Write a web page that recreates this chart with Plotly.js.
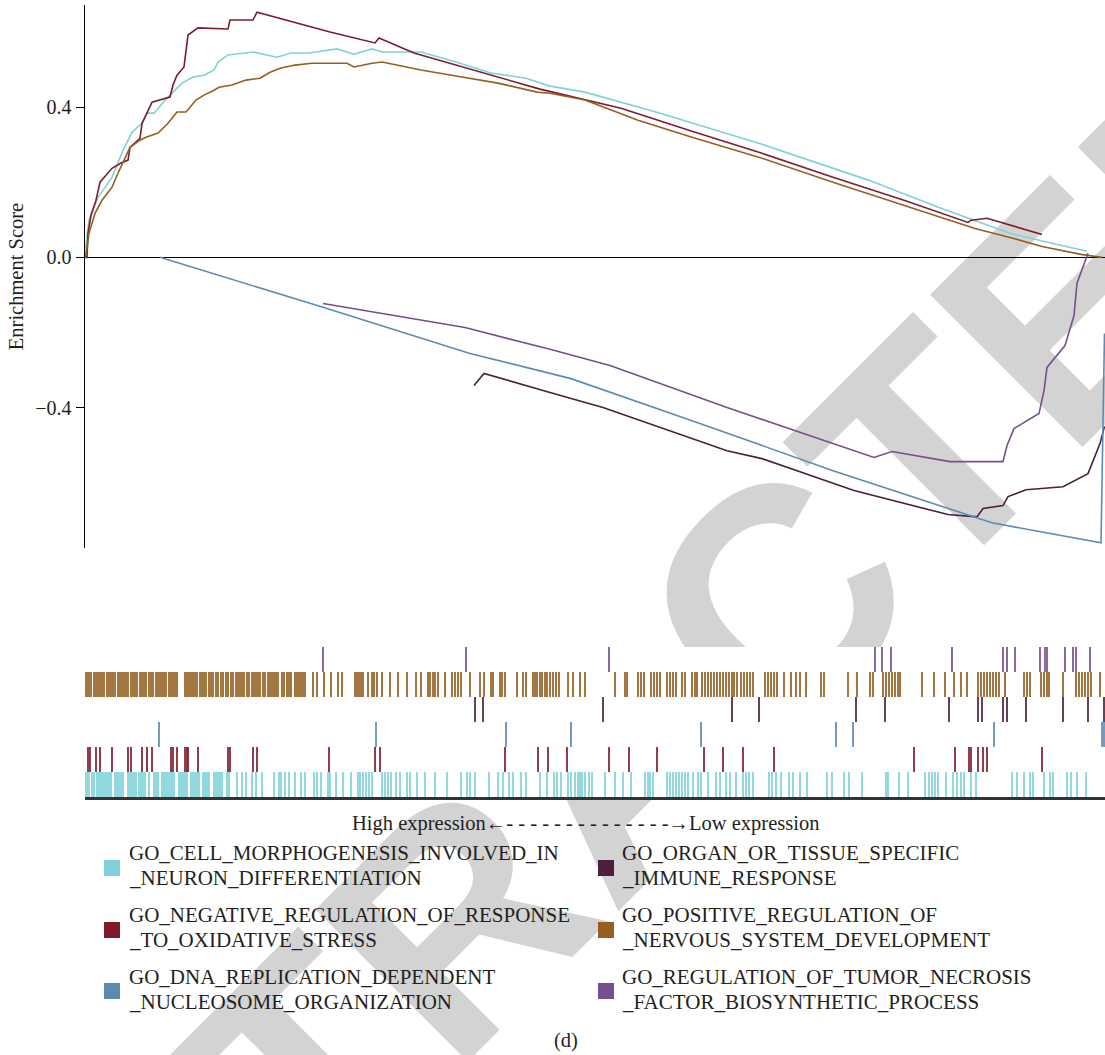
<!DOCTYPE html>
<html>
<head>
<meta charset="utf-8">
<script src="https://cdn.plot.ly/plotly-3.0.1.min.js"></script>
<style>
  html, body { margin:0; padding:0; background:#ffffff; overflow:hidden; }
  #wrap { position:relative; width:1105px; height:1055px; overflow:hidden; }
  #wm { position:absolute; left:616px; top:760px; transform:translate(-50%,-50%) rotate(-45deg);
        font-family:"Liberation Sans", Arial, sans-serif; font-weight:bold; font-size:313px; line-height:1;
        color:#d3d3d3; white-space:nowrap; z-index:0; }
  #chart { position:absolute; left:0; top:0; width:1105px; height:1055px; z-index:1; }
</style>
</head>
<body>
<div id="wrap">
  <div id="wm">RETRACTED</div>
  <div id="chart"></div>
</div>
<script>
// ---------- gene-set names ----------
const setNames = [
  "GO_CELL_MORPHOGENESIS_INVOLVED_IN_NEURON_DIFFERENTIATION",
  "GO_ORGAN_OR_TISSUE_SPECIFIC_IMMUNE_RESPONSE",
  "GO_NEGATIVE_REGULATION_OF_RESPONSE_TO_OXIDATIVE_STRESS",
  "GO_POSITIVE_REGULATION_OF_NERVOUS_SYSTEM_DEVELOPMENT",
  "GO_DNA_REPLICATION_DEPENDENT_NUCLEOSOME_ORGANIZATION",
  "GO_REGULATION_OF_TUMOR_NECROSIS_FACTOR_BIOSYNTHETIC_PROCESS"
];
const legendLines = [
  ["GO_CELL_MORPHOGENESIS_INVOLVED_IN", "_NEURON_DIFFERENTIATION"],
  ["GO_ORGAN_OR_TISSUE_SPECIFIC", "_IMMUNE_RESPONSE"],
  ["GO_NEGATIVE_REGULATION_OF_RESPONSE", "_TO_OXIDATIVE_STRESS"],
  ["GO_POSITIVE_REGULATION_OF", "_NERVOUS_SYSTEM_DEVELOPMENT"],
  ["GO_DNA_REPLICATION_DEPENDENT", "_NUCLEOSOME_ORGANIZATION"],
  ["GO_REGULATION_OF_TUMOR_NECROSIS", "_FACTOR_BIOSYNTHETIC_PROCESS"]
];

// ---------- running enrichment scores (x = rank position, y = ES) ----------
const cellMorphX = [0,1,4,13,27,38,47,57,62,69,82,97,108,119,129,133,143,161,168,192,206,224,252,269,287,297,336,371,406,441,465,500,571,677,784,854,883,925,968,1002];
const cellMorphY = [0,0.032,0.099,0.160,0.213,0.285,0.333,0.357,0.384,0.384,0.424,0.464,0.480,0.485,0.499,0.520,0.539,0.544,0.547,0.533,0.544,0.544,0.555,0.541,0.555,0.547,0.547,0.520,0.491,0.477,0.456,0.440,0.387,0.301,0.205,0.133,0.104,0.064,0.037,0.016];

const organX = [389,399,465,518,642,677,769,863,892,898,918,923,941,978,1003,1015,1019.5];
const organY = [-0.341,-0.309,-0.360,-0.400,-0.515,-0.536,-0.621,-0.685,-0.691,-0.669,-0.661,-0.637,-0.619,-0.611,-0.576,-0.496,-0.450];

const negRegX = [0,2,3,6,11,15,27,36,43,45,55,57,61,67,85,88,92,99,103,113,143,145,168,172,245,290,294,329,455,536,607,677,748,819,883,886,902,957];
const negRegY = [0,0,0.064,0.112,0.152,0.200,0.237,0.251,0.259,0.293,0.317,0.357,0.379,0.413,0.427,0.459,0.485,0.507,0.592,0.611,0.608,0.632,0.632,0.653,0.600,0.571,0.584,0.544,0.448,0.397,0.336,0.277,0.213,0.152,0.093,0.099,0.104,0.061];

const posRegX = [0,1,4,10,17,27,33,40,45,55,61,73,83,92,101,111,119,129,134,147,161,175,185,196,210,227,248,262,269,287,297,336,371,413,452,465,500,553,607,677,748,819,890,925,957,996,1017];
const posRegY = [0,0.005,0.064,0.117,0.152,0.187,0.224,0.267,0.293,0.312,0.320,0.331,0.357,0.387,0.387,0.419,0.432,0.445,0.453,0.459,0.472,0.477,0.493,0.504,0.512,0.517,0.517,0.517,0.507,0.517,0.520,0.499,0.483,0.464,0.440,0.437,0.419,0.365,0.320,0.264,0.200,0.139,0.077,0.053,0.029,0.008,0];

const dnaX = [75,238,385,465,486,607,748,907,1016,1019.5];
const dnaY = [0,-0.133,-0.256,-0.309,-0.323,-0.435,-0.568,-0.707,-0.760,-0.203];

const tnfX = [238,380,465,525,642,789,807,865,918,922,929,954,959,962,980,989,992,1003];
const tnfY = [-0.123,-0.187,-0.245,-0.288,-0.400,-0.533,-0.517,-0.544,-0.544,-0.501,-0.456,-0.416,-0.355,-0.293,-0.235,-0.155,-0.069,0.011];

// ---------- hit positions (rug rows) ----------
const tnfHits = [238,381,524,790,797,806,867,918,922,930,955,960,962,980,988,991,1005];
const posRegHits = [0,2,4,6,9,11,13,15,17,19,22,24,26,28,30,33,35,37,39,41,43,46,48,50,52,55,57,59,61,64,66,68,71,73,75,77,79,81,84,86,88,90,92,
  100,102,104,106,108,110,112,115,117,119,121,124,126,128,131,133,136,138,141,143,146,148,151,153,155,157,159,162,164,167,169,171,173,175,178,180,183,185,187,189,191,193,197,199,202,204,206,
  210,212,214,216,218,220,228,232,239,246,253,257,270,272,274,276,278,283,287,289,292,297,305,313,322,331,336,343,345,348,350,353,360,367,370,373,376,385,395,399,406,408,415,417,420,432,438,441,448,450,452,455,457,460,462,
  465,468,471,474,483,488,495,500,530,540,542,553,556,559,566,569,572,575,582,585,588,591,597,600,607,610,612,617,620,623,626,629,632,635,638,641,644,647,649,652,656,659,662,665,668,
  680,683,686,689,692,699,706,711,715,721,736,739,763,772,785,788,798,801,804,807,810,813,815,837,849,860,869,876,882,893,896,899,902,905,908,911,914,920,939,942,945,956,959,962,964,978,991,994,997,1000,1003,1006,1015];
const organHits = [390,398,518,647,674,771,800,864,893,897,918,922,941,978,1003,1019];
const dnaHits = [74,291,421,486,616,751,768,909,1017,1019];
const negRegHits = [3,5,11,15,27,43,46,57,62,67,86,88,92,100,102,103,113,143,145,168,172,244,290,295,420,453,463,482,524,544,572,619,638,658,689,829,870,884,886,893,898,902,957];
const cellMorphHits = [0,2,4,7,9,12,14,16,18,20,22,24,26,30,32,34,36,38,43,45,47,49,51,54,56,58,60,64,69,71,73,77,79,81,83,85,87,89,94,96,98,100,102,106,108,110,112,114,118,120,122,124,129,131,133,135,137,142,144,
  152,157,161,167,171,177,189,194,196,200,204,210,216,220,229,232,236,243,245,251,258,266,273,275,278,281,284,287,297,300,303,306,311,315,322,325,332,340,350,362,376,382,385,390,404,413,418,424,428,436,441,455,462,
  469,472,476,483,486,490,493,495,497,500,504,507,520,530,538,546,560,563,565,568,582,585,588,591,594,597,600,603,608,613,616,623,631,635,641,645,651,658,661,664,668,684,687,691,696,704,708,715,722,742,747,759,764,777,801,803,814,823,840,844,847,850,853,861,868,872,876,879,886,891,927,932,939,945,948,959,965,968,982,986,992,1001];

// ---------- colours ----------
const colCyan = "#7FD2DA", colOrgan = "#4B1F3D", colRed = "#7F1B2D", colBrown = "#945F21", colBlue = "#5B8BB5", colPurple = "#745090";

const FONT = "Liberation Serif, 'Times New Roman', serif";
const TXT = "#231f20";

const lineSeries = [
  {x: cellMorphX, y: cellMorphY, c: colCyan, n: setNames[0]},
  {x: organX, y: organY, c: colOrgan, n: setNames[1]},
  {x: negRegX, y: negRegY, c: colRed, n: setNames[2]},
  {x: posRegX, y: posRegY, c: colBrown, n: setNames[3]},
  {x: dnaX, y: dnaY, c: colBlue, n: setNames[4]},
  {x: tnfX, y: tnfY, c: colPurple, n: setNames[5]}
];
// rug rows: base index counted from the bottom row
const rugSeries = [
  {h: cellMorphHits, c: colCyan, row: 0, n: setNames[0]},
  {h: negRegHits, c: colRed, row: 1, n: setNames[2]},
  {h: dnaHits, c: colBlue, row: 2, n: setNames[4]},
  {h: organHits, c: colOrgan, row: 3, n: setNames[1]},
  {h: posRegHits, c: colBrown, row: 4, n: setNames[3]},
  {h: tnfHits, c: colPurple, row: 5, n: setNames[5]}
];

const traces = [];
lineSeries.forEach(s => traces.push({
  type: "scatter", mode: "lines", x: s.x, y: s.y, name: s.n,
  line: {color: s.c, width: 1.6}, xaxis: "x", yaxis: "y", hoverinfo: "skip"
}));
rugSeries.forEach(s => traces.push({
  type: "bar", x: s.h, y: s.h.map(() => 1), base: s.row, width: 1.7, name: s.n,
  marker: {color: s.c, line: {width: 0}}, xaxis: "x2", yaxis: "y2", hoverinfo: "skip"
}));

const W = 1105, H = 1055, L = 85;
const px2x = p => (p - L) / (W - L);
const py2y = p => 1 - p / H;

const annotations = [];
const shapes = [];
// white backing behind the hit-rug panel
shapes.push({type: "rect", xref: "paper", yref: "paper", layer: "below",
  x0: px2x(0), x1: 1, y0: py2y(797), y1: py2y(647), fillcolor: "#ffffff", line: {width: 0}});

annotations.push({xref: "paper", yref: "paper", x: px2x(585.5), y: py2y(823), xanchor: "center", yanchor: "middle",
  showarrow: false, text: "High expression\u2190- - - - - - - - - - - - - -\u2192Low expression",
  font: {family: FONT, size: 20.5, color: TXT}});
annotations.push({xref: "paper", yref: "paper", x: px2x(566), y: py2y(1040), xanchor: "center", yanchor: "middle",
  showarrow: false, text: "(d)", font: {family: FONT, size: 20.5, color: TXT}});

// legend (two columns, three rows)
const legendOrder = [0, 1, 2, 3, 4, 5];
const legendCols = [colCyan, colOrgan, colRed, colBrown, colBlue, colPurple];
const colTextX = [127, 620], colSwX = [104, 598];
const rowLine1 = [853, 915, 977], rowSwTop = [860, 922, 983];
legendOrder.forEach((k, i) => {
  const col = i % 2, row = Math.floor(i / 2);
  shapes.push({type: "rect", xref: "paper", yref: "paper",
    x0: px2x(colSwX[col]), x1: px2x(colSwX[col] + 16),
    y0: py2y(rowSwTop[row] + 16), y1: py2y(rowSwTop[row]),
    fillcolor: legendCols[k], line: {width: 0}});
  legendLines[k].forEach((t, j) => annotations.push({
    xref: "paper", yref: "paper", x: px2x(colTextX[col]), y: py2y(rowLine1[row] + 25 * j),
    xanchor: "left", yanchor: "middle", showarrow: false, text: t,
    font: {family: FONT, size: 21, color: TXT}}));
});

const layout = {
  width: W, height: H,
  margin: {l: L, r: 0, t: 0, b: 0, pad: 0},
  paper_bgcolor: "rgba(0,0,0,0)", plot_bgcolor: "rgba(0,0,0,0)",
  showlegend: false, barmode: "overlay",
  font: {family: FONT, color: TXT, size: 20},
  xaxis: {domain: [0, 1], range: [0, 1020], visible: false, anchor: "y", fixedrange: true},
  yaxis: {domain: [py2y(548), py2y(5)], range: [-0.774, 0.672], anchor: "x",
    showline: true, linecolor: "#000", linewidth: 1.5, mirror: false,
    ticks: "outside", ticklen: 8, tickwidth: 1.2, tickcolor: "#000",
    tick0: 0, dtick: 0.4, tickformat: ".1f", showgrid: false,
    zeroline: true, zerolinecolor: "#000", zerolinewidth: 1.5,
    tickfont: {family: FONT, size: 20, color: TXT},
    title: {text: "Enrichment Score", font: {family: FONT, size: 20.5, color: TXT}, standoff: 6}},
  xaxis2: {domain: [0, 1], range: [0, 1020], anchor: "y2", showline: true, linecolor: "#333", linewidth: 2.5,
    ticks: "", showticklabels: false, showgrid: false, zeroline: false, fixedrange: true},
  yaxis2: {domain: [py2y(797), py2y(647)], range: [0, 6], anchor: "x2", visible: false, fixedrange: true},
  shapes: shapes,
  annotations: annotations
};

Plotly.newPlot("chart", traces, layout, {staticPlot: true, displayModeBar: false});
</script>
</body>
</html>
